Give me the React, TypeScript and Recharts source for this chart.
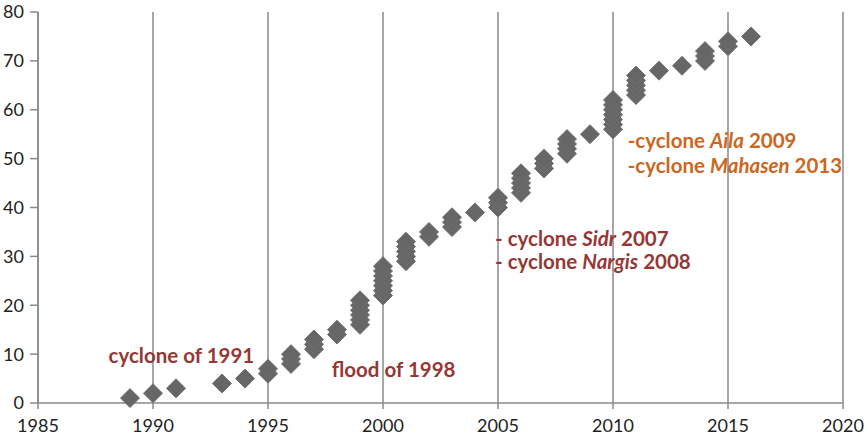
import { CartesianGrid, ReferenceDot, Scatter, ScatterChart, XAxis, YAxis } from "recharts";

const FONT = "Lato, 'Open Sans', sans-serif";
const AXIS_COLOR = "#8a8a8a";
const TICK_COLOR = "#222";
const RED = "#953735";
const ORANGE = "#cc6620";

// one point per event: year and cumulative count
const eventYears = [
  1989, 1990, 1991, 1993, 1994, 1995, 1995, 1996, 1996, 1996, 1997, 1997, 1997, 1998, 1998,
  1999, 1999, 1999, 1999, 1999, 1999, 2000, 2000, 2000, 2000, 2000, 2000, 2000,
  2001, 2001, 2001, 2001, 2001, 2002, 2002, 2003, 2003, 2003, 2004, 2005, 2005, 2005,
  2006, 2006, 2006, 2006, 2006, 2007, 2007, 2007, 2008, 2008, 2008, 2008, 2009,
  2010, 2010, 2010, 2010, 2010, 2010, 2010, 2011, 2011, 2011, 2011, 2011, 2012, 2013,
  2014, 2014, 2014, 2015, 2015, 2016,
];
const eventCounts = [
  1, 2, 3, 4, 5, 6, 7, 8, 9, 10, 11, 12, 13, 14, 15,
  16, 17, 18, 19, 20, 21, 22, 23, 24, 25, 26, 27, 28,
  29, 30, 31, 32, 33, 34, 35, 36, 37, 38, 39, 40, 41, 42,
  43, 44, 45, 46, 47, 48, 49, 50, 51, 52, 53, 54, 55,
  56, 57, 58, 59, 60, 61, 62, 63, 64, 65, 66, 67, 68, 69,
  70, 71, 72, 73, 74, 75,
];

const xTicks = [1985, 1990, 1995, 2000, 2005, 2010, 2015, 2020];
const yTicks = [0, 10, 20, 30, 40, 50, 60, 70, 80];

type Part = { text: string; italic?: boolean };
type Note = { x: number; y: number; color: string; parts: Part[] };

const notes: Note[] = [
  { x: 1988.07, y: 8.2, color: RED, parts: [{ text: "cyclone of 1991" }] },
  { x: 1997.77, y: 5.4, color: RED, parts: [{ text: "flood of 1998" }] },
  {
    x: 2004.87, y: 32.2, color: RED,
    parts: [{ text: "- cyclone " }, { text: "Sidr", italic: true }, { text: " 2007" }],
  },
  {
    x: 2004.87, y: 27.4, color: RED,
    parts: [{ text: "- cyclone " }, { text: "Nargis", italic: true }, { text: " 2008" }],
  },
  {
    x: 2010.64, y: 52.1, color: ORANGE,
    parts: [{ text: "-cyclone " }, { text: "Aila", italic: true }, { text: " 2009" }],
  },
  {
    x: 2010.64, y: 47.0, color: ORANGE,
    parts: [{ text: "-cyclone " }, { text: "Mahasen", italic: true }, { text: " 2013" }],
  },
];

const points = eventYears.map((year, i) => ({ year, count: eventCounts[i] }));

const Diamond = (props: any) => {
  const { cx, cy } = props;
  const h = 9.5;
  return (
    <polygon
      points={`${cx},${cy - h} ${cx + h},${cy} ${cx},${cy + h} ${cx - h},${cy}`}
      fill="#666666"
      stroke="#707070"
      strokeWidth={1}
    />
  );
};

function noteLabel(note: Note) {
  return (props: any) => {
    const vb = props.viewBox || {};
    return (
      <text
        x={vb.x}
        y={vb.y}
        fill={note.color}
        fontFamily={FONT}
        fontWeight={700}
        fontSize={20.5}
      >
        {note.parts.map((p, i) => (
          <tspan key={i} fontStyle={p.italic ? "italic" : "normal"}>
            {p.text}
          </tspan>
        ))}
      </text>
    );
  };
}

export default function App() {
  return (
    <div style={{ position: "fixed", left: 0, top: 0, background: "#fff", width: 868, height: 440 }}>
      <ScatterChart
        width={868}
        height={440}
        margin={{ top: 12, right: 25, bottom: 0, left: 0 }}
      >
        <CartesianGrid stroke={AXIS_COLOR} strokeWidth={1.5} horizontal={false} />
        <XAxis
          type="number"
          dataKey="year"
          domain={[1985, 2020]}
          ticks={xTicks}
          height={37}
          stroke={AXIS_COLOR}
          strokeWidth={1.5}
          tickSize={6}
          tickMargin={10}
          tick={{ fontSize: 18, fill: TICK_COLOR, fontFamily: FONT }}
        />
        <YAxis
          type="number"
          dataKey="count"
          domain={[0, 80]}
          ticks={yTicks}
          width={38}
          stroke={AXIS_COLOR}
          strokeWidth={1.5}
          tickSize={8}
          tickMargin={6}
          tick={{ fontSize: 18, fill: TICK_COLOR, fontFamily: FONT }}
        />
        <Scatter data={points} shape={Diamond} isAnimationActive={false} />
        {notes.map((n, i) => (
          <ReferenceDot
            key={i}
            x={n.x}
            y={n.y}
            r={0}
            fill="none"
            stroke="none"
            label={noteLabel(n)}
          />
        ))}
      </ScatterChart>
    </div>
  );
}
